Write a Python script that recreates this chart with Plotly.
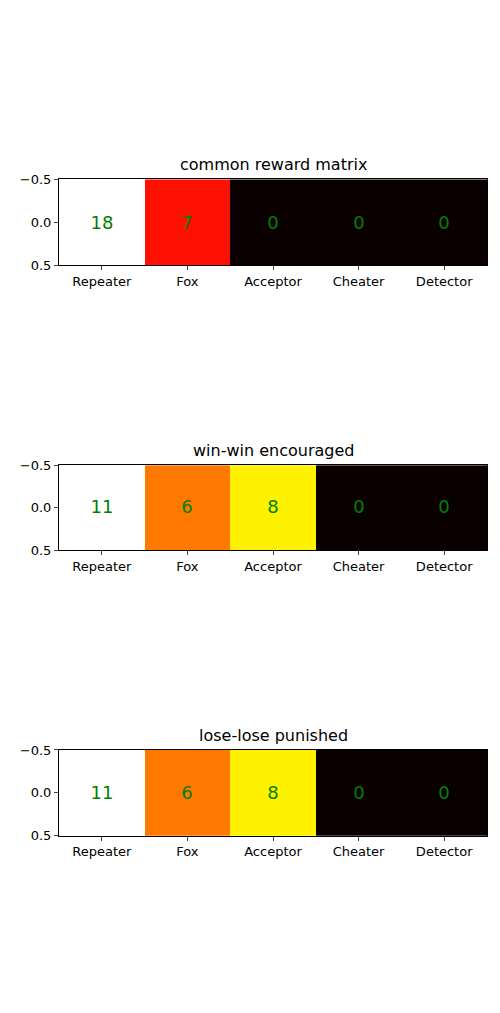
import plotly.graph_objects as go

strategies = ["Repeater", "Fox", "Acceptor", "Cheater", "Detector"]
titles = ["common reward matrix", "win-win encouraged", "lose-lose punished"]
values = [
    [18, 7, 0, 0, 0],
    [11, 6, 8, 0, 0],
    [11, 6, 8, 0, 0],
]

hot = [[0.0, "rgb(10,0,0)"], [0.365, "rgb(255,0,0)"], [0.746, "rgb(255,255,0)"], [1.0, "rgb(255,255,255)"]]

W, H = 500, 1013
tops = [166.8, 456.9, 746.0]
bots = [254.1, 543.1, 833.2]
x0, x1 = 51 / W, 479 / W

fig = go.Figure()
for i, (vals, title) in enumerate(zip(values, titles)):
    n = "" if i == 0 else str(i + 1)
    fig.add_trace(go.Heatmap(
        z=[vals], x=list(range(5)), y=[0],
        colorscale=hot, zmin=min(vals), zmax=max(vals), showscale=False,
        texttemplate="%{z}", textfont=dict(color="green", size=18),
        hoverinfo="skip", xaxis="x" + n, yaxis="y" + n,
    ))
    yd = [1 - bots[i] / H, 1 - tops[i] / H]
    fig.layout["xaxis" + n] = dict(
        domain=[x0, x1], anchor="y" + n, range=[-0.5, 4.5],
        tickvals=list(range(5)), ticktext=strategies, ticks="outside",
        ticklen=4, showline=True, mirror=True, linecolor="black",
        showgrid=False, zeroline=False, tickfont=dict(size=13, color="black"),
    )
    fig.layout["yaxis" + n] = dict(
        domain=yd, anchor="x" + n, range=[0.5, -0.5],
        tickvals=[-0.5, 0, 0.5], ticktext=["\u22120.5", "0.0", "0.5"],
        ticks="outside", ticklen=4, showline=True, mirror=True,
        linecolor="black", showgrid=False, zeroline=False,
        tickfont=dict(size=13, color="black"),
    )
    fig.add_annotation(text=title, x=(x0 + x1) / 2, y=yd[1], xref="paper", yref="paper",
                       yanchor="bottom", yshift=3, showarrow=False,
                       font=dict(size=16, color="black"))

fig.update_layout(width=W, height=H, margin=dict(l=0, r=0, t=0, b=0),
                  plot_bgcolor="white", paper_bgcolor="white",
                  font=dict(family="DejaVu Sans"))
fig.write_html("out.html")
